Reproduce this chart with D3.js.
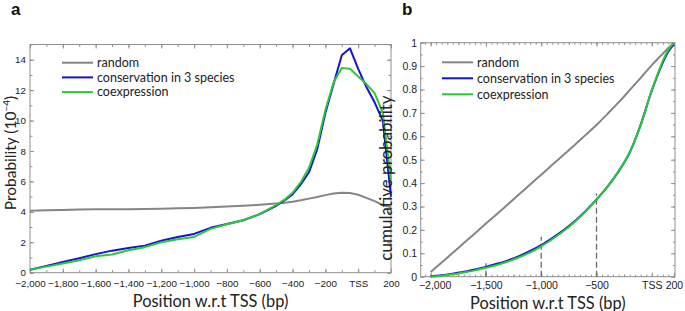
<!DOCTYPE html>
<html>
<head>
<meta charset="utf-8">
<script src="https://cdn.jsdelivr.net/npm/d3@7"></script>
<style>
  body { margin: 0; background: #fff; }
  svg { display: block; }
</style>
</head>
<body>
<div id="chart"></div>
<script>
// ---- panel a: probability density (10^-4) ----
const posA = [-2000, -1900, -1800, -1700, -1600, -1500, -1400, -1300, -1200, -1100,
              -1000, -900, -800, -700, -600, -500, -450, -400, -350, -300,
              -250, -200, -150, -100, -50, 0, 50, 100, 150, 200];
const randomA = [4.08, 4.10, 4.12, 4.16, 4.17, 4.17, 4.17, 4.18, 4.21, 4.23,
                 4.26, 4.30, 4.35, 4.40, 4.46, 4.55, 4.60, 4.67, 4.76, 4.87,
                 4.98, 5.10, 5.20, 5.25, 5.24, 5.12, 4.92, 4.70, 4.45, 4.30];
const conservA = [0.2, 0.45, 0.7, 0.95, 1.22, 1.45, 1.62, 1.78, 2.1, 2.35,
                  2.55, 2.95, 3.2, 3.45, 3.85, 4.4, 4.75, 5.15, 5.8, 6.6,
                  8.1, 10.5, 12.4, 14.3, 14.75, 13.4, 12.2, 11.2, 10.0, 5.0];
const coexprA = [0.2, 0.4, 0.6, 0.82, 1.08, 1.2, 1.48, 1.68, 2.0, 2.2,
                 2.35, 2.88, 3.18, 3.45, 3.85, 4.45, 4.8, 5.25, 5.95, 6.9,
                 8.4, 10.7, 12.5, 13.45, 13.4, 12.9, 12.4, 11.8, 10.5, 6.1];

// ---- panel b: cumulative probability ----
const posB = [-2000, -1900, -1800, -1700, -1600, -1500, -1400, -1300, -1200, -1100,
              -1000, -900, -800, -700, -600, -500, -400, -300, -200, -100,
              0, 50, 100, 150, 200];
const randomB = [0.02, 0.061, 0.102, 0.144, 0.185, 0.227, 0.268, 0.31, 0.352, 0.394,
                 0.436, 0.478, 0.52, 0.562, 0.605, 0.648, 0.696, 0.745, 0.797, 0.85,
                 0.904, 0.929, 0.953, 0.977, 1.0];
const conservB = [0.001, 0.006, 0.013, 0.021, 0.031, 0.042, 0.055, 0.07, 0.088, 0.11,
                  0.135, 0.165, 0.198, 0.236, 0.28, 0.33, 0.385, 0.45, 0.53, 0.65,
                  0.795, 0.858, 0.915, 0.962, 0.993];
const coexprB = [0.0, 0.004, 0.01, 0.018, 0.027, 0.038, 0.05, 0.065, 0.083, 0.104,
                 0.13, 0.16, 0.194, 0.233, 0.278, 0.33, 0.386, 0.452, 0.532, 0.648,
                 0.797, 0.862, 0.922, 0.97, 1.0];
const dashPos = [-1500, -1000, -500];
const dashTop = [0.057, 0.171, 0.356];

// ---- ticks and labels ----
const xTicksA = [-2000, -1800, -1600, -1400, -1200, -1000, -800, -600, -400, -200, 0, 200];
const xLabelsA = ['\u22122,000', '\u22121,800', '\u22121,600', '\u22121,400', '\u22121,200', '\u22121,000',
                  '\u2212800', '\u2212600', '\u2212400', '\u2212200', 'TSS', '200'];
const yTicksA = [0, 2, 4, 6, 8, 10, 12, 14];
const xTicksB = [-2000, -1500, -1000, -500, 0, 200];
const xLabelsB = ['\u22122,000', '\u22121,500', '\u22121,000', '\u2212500', 'TSS', '200'];
const yTicksB = [0, 0.1, 0.2, 0.3, 0.4, 0.5, 0.6, 0.7, 0.8, 0.9, 1];
const yLabelsB = ['0', '0.1', '0.2', '0.3', '0.4', '0.5', '0.6', '0.7', '0.8', '0.9', '1'];

const seriesNames = ['random', 'conservation in 3 species', 'coexpression'];
const seriesColors = ['#858585', '#1414c8', '#2cc83a'];

const W = 685, H = 311;
const frameCol = '#8f8f8f';
const tickFont = '"Liberation Sans", Arial, sans-serif';
const textFont = 'Lato, "Open Sans", sans-serif';

const svg = d3.select('#chart')
    .append('svg')
    .attr('width', W)
    .attr('height', H);

function styleAxis(g, fontSize) {
    g.select('.domain').remove();
    g.selectAll('.tick line').attr('stroke', frameCol);
    g.selectAll('.tick text')
        .attr('fill', '#222')
        .attr('font-family', tickFont)
        .attr('font-size', fontSize);
}

function drawPanel(p) {
    const x = d3.scaleLinear().domain(p.xDomain).range([p.left, p.right]);
    const y = d3.scaleLinear().domain(p.yDomain).range([p.bottom, p.top]);
    const g = svg.append('g');

    // minor ticks, all four sides, pointing inward
    g.append('g').attr('transform', `translate(0,${p.bottom})`)
        .call(d3.axisBottom(x).tickValues(p.xMinor).tickSize(-p.minorLen).tickFormat(''))
        .call(s => styleAxis(s, p.tickSize));
    g.append('g').attr('transform', `translate(0,${p.top})`)
        .call(d3.axisTop(x).tickValues(p.xMinor).tickSize(-p.minorLen).tickFormat(''))
        .call(s => styleAxis(s, p.tickSize));
    g.append('g').attr('transform', `translate(${p.left},0)`)
        .call(d3.axisLeft(y).tickValues(p.yMinor).tickSize(-p.minorLen).tickFormat(''))
        .call(s => styleAxis(s, p.tickSize));
    g.append('g').attr('transform', `translate(${p.right},0)`)
        .call(d3.axisRight(y).tickValues(p.yMinor).tickSize(-p.minorLen).tickFormat(''))
        .call(s => styleAxis(s, p.tickSize));

    // major ticks with labels
    const xAxisG = g.append('g').attr('transform', `translate(0,${p.bottom})`)
        .call(d3.axisBottom(x).tickValues(p.xTicks).tickSize(-p.majorLen)
            .tickPadding(p.xPad).tickFormat((d, i) => p.xLabels[i]))
        .call(s => styleAxis(s, p.tickSize));
    if (p.firstLabelDx) {
        xAxisG.selectAll('.tick text').filter((d, i) => i === 0).attr('dx', p.firstLabelDx);
    }
    g.append('g').attr('transform', `translate(0,${p.top})`)
        .call(d3.axisTop(x).tickValues(p.xTicks).tickSize(-p.majorLen).tickFormat(''))
        .call(s => styleAxis(s, p.tickSize));
    g.append('g').attr('transform', `translate(${p.left},0)`)
        .call(d3.axisLeft(y).tickValues(p.yTicks).tickSize(-p.majorLen)
            .tickPadding(p.yPad).tickFormat((d, i) => p.yLabels[i]))
        .call(s => styleAxis(s, p.tickSize));
    g.append('g').attr('transform', `translate(${p.right},0)`)
        .call(d3.axisRight(y).tickValues(p.yTicks).tickSize(-p.majorLen).tickFormat(''))
        .call(s => styleAxis(s, p.tickSize));

    // frame
    g.append('rect')
        .attr('x', p.left).attr('y', p.top)
        .attr('width', p.right - p.left).attr('height', p.bottom - p.top)
        .attr('fill', 'none').attr('stroke', frameCol).attr('stroke-width', 1);

    // dashed guide lines
    if (p.dashes) {
        g.selectAll('.guide')
            .data(p.dashes.pos)
            .join('line')
            .attr('class', 'guide')
            .attr('x1', d => x(d)).attr('x2', d => x(d))
            .attr('y1', y(0)).attr('y2', (d, i) => y(p.dashes.top[i]))
            .attr('stroke', '#6a6a6a').attr('stroke-width', 1.3)
            .attr('stroke-dasharray', '6,3');
    }

    // curves
    const line = d3.line()
        .x(d => x(d[0]))
        .y(d => y(d[1]))
        .curve(p.curve);
    p.series.forEach((vals, i) => {
        g.append('path')
            .datum(p.pos.map((v, j) => [v, vals[j]]))
            .attr('d', line)
            .attr('fill', 'none')
            .attr('stroke', seriesColors[i])
            .attr('stroke-width', 2)
            .attr('stroke-linejoin', 'round');
    });

    // legend
    const lg = g.append('g');
    seriesNames.forEach((name, i) => {
        const ly = p.legY + i * p.legStep;
        lg.append('line')
            .attr('x1', p.legX).attr('x2', p.legX + 31)
            .attr('y1', ly).attr('y2', ly)
            .attr('stroke', seriesColors[i]).attr('stroke-width', 2);
        lg.append('text')
            .attr('x', p.legX + 35).attr('y', ly)
            .attr('dy', '0.35em')
            .attr('font-family', textFont).attr('font-size', 12.5)
            .attr('fill', '#222')
            .text(name);
    });

    // axis titles
    g.append('text')
        .attr('x', (p.left + p.right) / 2).attr('y', p.xTitleY)
        .attr('text-anchor', 'middle')
        .attr('font-family', textFont).attr('font-size', 16.4).attr('fill', '#222')
        .text('Position w.r.t TSS (bp)');
    const yt = g.append('text')
        .attr('transform', `translate(${p.yTitleX},${p.yTitleCY}) rotate(-90)`)
        .attr('text-anchor', 'middle')
        .attr('font-family', textFont).attr('font-size', p.yTitleSize).attr('fill', '#222');
    p.yTitle(yt);

    // panel letter
    svg.append('text')
        .attr('x', p.letterX).attr('y', 15)
        .attr('font-family', tickFont).attr('font-weight', 'bold')
        .attr('font-size', 17).attr('fill', '#111')
        .text(p.letter);
}

drawPanel({
    letter: 'a', letterX: 11,
    left: 30, right: 391, top: 44.5, bottom: 272.7,
    xDomain: [-2000, 200], yDomain: [0, 15],
    xTicks: xTicksA, xLabels: xLabelsA,
    xMinor: d3.range(-2000, 201, 100),
    yTicks: yTicksA, yLabels: yTicksA.map(String),
    yMinor: d3.range(0, 16, 1),
    majorLen: 4, minorLen: 2.5, tickSize: 9.8, xPad: 7, yPad: 4,
    pos: posA, series: [randomA, conservA, coexprA],
    curve: d3.curveLinear,
    legX: 62, legY: 62.7, legStep: 14.7,
    xTitleY: 306.5, yTitleX: 16, yTitleCY: 153, yTitleSize: 15.5,
    yTitle: t => {
        t.append('tspan').text('Probability (10');
        t.append('tspan').attr('font-size', 10).attr('dy', -6).text('\u22124');
        t.append('tspan').attr('dy', 6).text(')');
    }
});

drawPanel({
    letter: 'b', letterX: 402,
    left: 420.7, right: 675, top: 42.7, bottom: 276.7,
    xDomain: [-2090, 210], yDomain: [0, 1],
    xTicks: xTicksB, xLabels: xLabelsB, firstLabelDx: 4,
    xMinor: d3.range(-2000, 201, 250).concat(d3.range(-2050, 201, 50)),
    yTicks: yTicksB, yLabels: yLabelsB,
    yMinor: d3.range(0, 1.001, 0.05),
    majorLen: 4, minorLen: 2, tickSize: 10.5, xPad: 4.5, yPad: 3.5,
    pos: posB, series: [randomB, conservB, coexprB],
    curve: d3.curveMonotoneX,
    dashes: { pos: dashPos, top: dashTop },
    legX: 442, legY: 62.3, legStep: 16,
    xTitleY: 308.5, yTitleX: 392, yTitleCY: 178, yTitleSize: 17,
    yTitle: t => t.text('cumulative probability')
});
</script>
</body>
</html>
